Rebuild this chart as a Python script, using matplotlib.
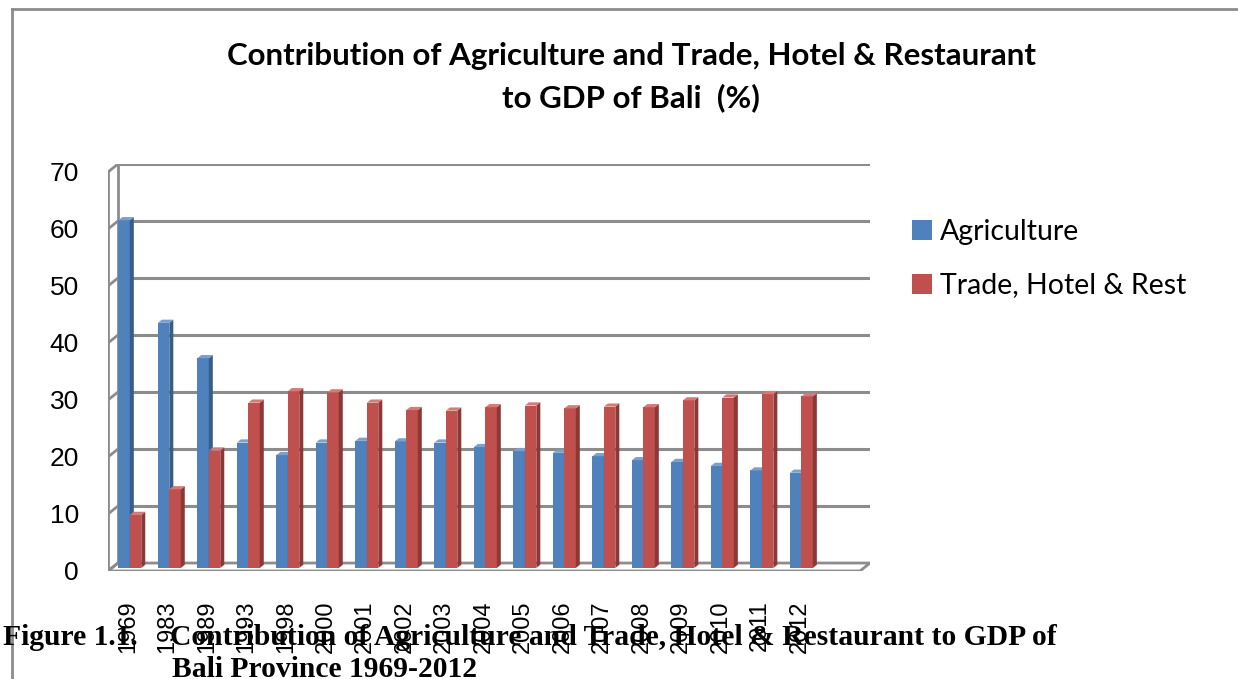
import matplotlib
matplotlib.use("Agg")
import matplotlib.pyplot as plt
from matplotlib.patches import Polygon, Patch
from matplotlib.lines import Line2D

# ── Data ─────────────────────────────────────────────────────────────────────
years = ["1969", "1983", "1989", "1993", "1998", "2000", "2001", "2002", "2003",
         "2004", "2005", "2006", "2007", "2008", "2009", "2010", "2011", "2012"]
agriculture = [61.0, 43.0, 36.8, 22.0, 19.8, 22.0, 22.3, 22.2, 22.0,
               21.2, 20.5, 20.2, 19.6, 18.9, 18.6, 17.9, 17.1, 16.7]
trade = [9.3, 13.8, 20.6, 29.0, 31.0, 30.8, 29.0, 27.7, 27.6,
         28.2, 28.5, 28.0, 28.3, 28.2, 29.4, 29.9, 30.5, 30.1]
series_names = ["Agriculture", "Trade, Hotel & Rest"]
y_ticks = [0, 10, 20, 30, 40, 50, 60, 70]

# ── Style ────────────────────────────────────────────────────────────────────
W, H, DPI = 1238, 679, 100
GRID = "#8c8c8c"
FACE = {"blue": ("#4f81bd", "#385d8a", "#7aa0d0"),
        "red": ("#c0504d", "#8c3836", "#d47b78")}

# pseudo-3D depth (front minus back), in data units
DX, DY = -0.253, -1.4
F_FRONT, F_BACK = 0.62, 0.22
BAR_W = 0.29
X_BACK_L, X_BACK_R = -0.456, 18.58

fig = plt.figure(figsize=(W / DPI, H / DPI), dpi=DPI)
ax = fig.add_axes([108 / W, 1 - 571 / H, 762 / W, 407 / H])
ax.set_xlim(X_BACK_L + DX, X_BACK_R)
ax.set_ylim(DY, 70)
for s in ax.spines.values():
    s.set_visible(False)

# walls and floor
floor = Polygon([(X_BACK_L, 0), (X_BACK_R, 0), (X_BACK_R + DX, DY), (X_BACK_L + DX, DY)],
                closed=True, facecolor="white", edgecolor=GRID, lw=2, zorder=1)
ax.add_patch(floor)
ax.hlines(y_ticks[1:], X_BACK_L, X_BACK_R, color=GRID, lw=2.2, zorder=1)
for v in y_ticks:
    ax.plot([X_BACK_L, X_BACK_L + DX], [v, v + DY], color=GRID, lw=2, zorder=1)
ax.plot([X_BACK_L, X_BACK_L], [0, 70], color=GRID, lw=2, zorder=1)
ax.plot([X_BACK_L + DX, X_BACK_L + DX], [DY, 70 + DY], color=GRID, lw=2, zorder=1)


def draw_bars(values, offset, colors, z):
    front, side, top = colors
    for i, v in enumerate(values):
        xl = i + offset
        xr = xl + BAR_W
        ax.bar(xl + F_FRONT * DX, v, width=BAR_W, bottom=F_FRONT * DY, align="edge",
               color=front, edgecolor="none", zorder=z)
        ax.add_patch(Polygon([(xr + F_FRONT * DX, F_FRONT * DY),
                              (xr + F_FRONT * DX, v + F_FRONT * DY),
                              (xr + F_BACK * DX, v + F_BACK * DY),
                              (xr + F_BACK * DX, F_BACK * DY)],
                             closed=True, facecolor=side, edgecolor="none", zorder=z))
        ax.add_patch(Polygon([(xl + F_FRONT * DX, v + F_FRONT * DY),
                              (xr + F_FRONT * DX, v + F_FRONT * DY),
                              (xr + F_BACK * DX, v + F_BACK * DY),
                              (xl + F_BACK * DX, v + F_BACK * DY)],
                             closed=True, facecolor=top, edgecolor="none", zorder=z))


draw_bars(agriculture, -BAR_W, FACE["blue"], 3)
draw_bars(trade, 0.0, FACE["red"], 4)

# ticks
ax.set_yticks([v + DY for v in y_ticks])
ax.set_yticklabels([str(v) for v in y_ticks], fontsize=19, family="Liberation Sans")
ax.set_xticks([i + 0.8 * DX for i in range(len(years))])
ax.set_xticklabels(years, rotation=90, fontsize=17, family="Liberation Sans", va="top")
ax.tick_params(axis="y", length=0, pad=21)
ax.tick_params(axis="x", length=0, pad=21)

# legend
handles = [Patch(facecolor=FACE["blue"][0]), Patch(facecolor=FACE["red"][0])]
fig.legend(handles, series_names, loc="upper left", bbox_to_anchor=(886 / W, 1 - 193 / H),
           frameon=False, prop={"family": "Lato", "size": 20.5},
           handlelength=0.7, handleheight=0.7, handletextpad=0.3, labelspacing=0.98)

# title
fig.text(631 / W, 1 - 56 / H, "Contribution of Agriculture and Trade, Hotel & Restaurant",
         ha="center", va="center", fontsize=22.5, fontweight="bold", family="Lato")
fig.text(631 / W, 1 - 98 / H, "to GDP of Bali  (%)",
         ha="center", va="center", fontsize=22.5, fontweight="bold", family="Lato")

# chart border
fig.add_artist(Line2D([12 / W, 12 / W], [0, 1 - 9 / H], color=GRID, lw=2))
fig.add_artist(Line2D([12 / W, 1], [1 - 9 / H, 1 - 9 / H], color=GRID, lw=2))

# caption
cap = dict(fontsize=21.3, fontweight="bold", family="Liberation Serif", va="baseline")
fig.text(3 / W, 1 - 645 / H, "Figure 1.1.", **cap)
fig.text(170 / W, 1 - 645 / H,
         "Contribution of Agriculture and Trade, Hotel & Restaurant to GDP of", **cap)
fig.text(172 / W, 1 - 677 / H, "Bali Province 1969-2012", **cap)

fig.savefig("out.png", dpi=DPI)
